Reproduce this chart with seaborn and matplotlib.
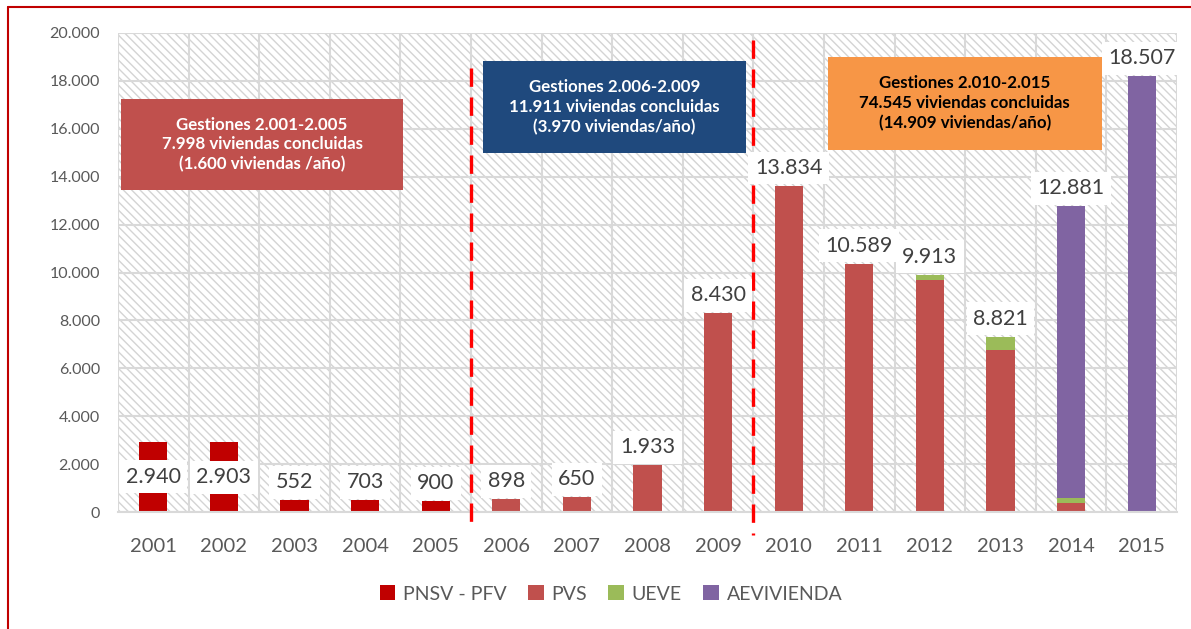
import matplotlib
matplotlib.use("Agg")
import matplotlib.pyplot as plt
import seaborn as sns
import numpy as np
import pandas as pd
from matplotlib.patches import Rectangle
from matplotlib.lines import Line2D
from matplotlib.ticker import FuncFormatter, MultipleLocator, FixedLocator

# ---------------- data ----------------
years = ["2001", "2002", "2003", "2004", "2005", "2006", "2007", "2008",
         "2009", "2010", "2011", "2012", "2013", "2014", "2015"]
pnsv_pfv = [2940, 2903, 490, 490, 450, 0, 0, 0, 0, 0, 0, 0, 0, 0, 0]
pvs = [0, 0, 0, 0, 0, 530, 610, 1950, 8300, 13610, 10360, 9690, 6770, 390, 0]
ueve = [0, 0, 0, 0, 0, 0, 0, 0, 0, 0, 0, 210, 540, 210, 0]
aevivienda = [0, 0, 0, 0, 0, 0, 0, 0, 0, 0, 0, 0, 0, 12170, 18200]
total_labels = ["2.940", "2.903", "552", "703", "900", "898", "650", "1.933",
                "8.430", "13.834", "10.589", "9.913", "8.821", "12.881", "18.507"]
series_names = ["PNSV - PFV", "PVS", "UEVE", "AEVIVIENDA"]
series_colors = ["#c00000", "#c0504d", "#9bbb59", "#8064a2"]

box_texts = [
    "Gestiones 2.001-2.005\n7.998 viviendas concluidas\n(1.600 viviendas /año)",
    "Gestiones 2.006-2.009\n11.911 viviendas concluidas\n(3.970 viviendas/año)",
    "Gestiones 2.010-2.015\n74.545 viviendas concluidas\n(14.909 viviendas/año)",
]

# ---------------- style ----------------
sns.set_theme(style="white")
plt.rcParams["font.family"] = ["Lato", "DejaVu Sans"]
plt.rcParams["hatch.linewidth"] = 1.0
plt.rcParams["hatch.color"] = "#d4d4d4"

fig = plt.figure(figsize=(11.91, 6.29), dpi=100)
W, H = 1191, 629
ax = fig.add_axes([118 / W, 1 - 512 / H, (1177 - 118) / W, (512 - 33) / H])

df = pd.DataFrame({"year": years, "PNSV - PFV": pnsv_pfv, "PVS": pvs,
                   "UEVE": ueve, "AEVIVIENDA": aevivienda})

# hatched background
bg = Rectangle((0, 0), 1, 1, transform=ax.transAxes, facecolor="white",
               edgecolor="#d4d4d4", hatch="\\\\\\\\", linewidth=0, zorder=0.1)
ax.add_patch(bg)

bottom = np.zeros(len(years))
for name, col in zip(series_names, series_colors):
    vals = df[name].to_numpy(dtype=float)
    sns.barplot(x=df["year"], y=vals, bottom=bottom, color=col, saturation=1,
                width=0.4, ax=ax, zorder=2, linewidth=0)
    bottom = bottom + vals

ax.set_xlim(-0.5, len(years) - 0.5)
ax.set_ylim(0, 20000)
ax.yaxis.set_major_locator(MultipleLocator(2000))
ax.yaxis.set_major_formatter(FuncFormatter(lambda v, p: f"{int(v):,}".replace(",", ".")))
ax.xaxis.set_minor_locator(FixedLocator(np.arange(-0.5, len(years), 1.0)))
ax.set_axisbelow(True)
ax.grid(axis="y", which="major", color="#d9d9d9", linewidth=1.5, zorder=0.5)
ax.grid(axis="x", which="minor", color="#d9d9d9", linewidth=1.5, zorder=0.5)
ax.grid(axis="x", which="major", visible=False)
for s in ["top", "right", "left"]:
    ax.spines[s].set_visible(False)
ax.spines["bottom"].set_color("#d9d9d9")
ax.spines["bottom"].set_linewidth(1.5)
ax.spines["bottom"].set_zorder(3)
ax.tick_params(axis="both", which="both", length=0)
ax.tick_params(axis="x", labelsize=14.5, labelcolor="#595959", pad=19)
ax.tick_params(axis="y", labelsize=11.5, labelcolor="#595959", pad=13)
ax.set_xlabel("")
ax.set_ylabel("")

# data labels
for i, lab in enumerate(total_labels):
    top = bottom[i]
    if pnsv_pfv[i] > 2000:
        ax.annotate(lab, (i, top / 2), ha="center", va="center", fontsize=15.5,
                    color="#404040", zorder=5,
                    bbox=dict(boxstyle="square,pad=0.3", fc="white", ec="none"))
    else:
        ax.annotate(lab, (i, top), xytext=(0, 13), textcoords="offset points",
                    ha="center", va="center", fontsize=15.5, color="#404040",
                    zorder=5,
                    bbox=dict(boxstyle="square,pad=0.3", fc="white", ec="none"))

# dashed separators
ax.plot([4.5, 4.5], [18540, -750], color="#ff0000", lw=2.4, ls=(0, (5.5, 3.2)),
        clip_on=False, zorder=4)
ax.plot([8.5, 8.5], [19700, -960], color="#ff0000", lw=2.4, ls=(0, (5.5, 3.2)),
        clip_on=False, zorder=4)

# summary boxes (axes fraction)
boxes = [((0.003, 0.672), 0.266, 0.190, "#c0504d", "white"),
         ((0.345, 0.749), 0.248, 0.193, "#1f497d", "white"),
         ((0.670, 0.756), 0.259, 0.194, "#f79646", "black")]
for (xy, w, h, fc, tc), txt in zip(boxes, box_texts):
    ax.add_patch(Rectangle(xy, w, h, transform=ax.transAxes, facecolor=fc,
                           edgecolor="none", zorder=4))
    ax.text(xy[0] + w / 2, xy[1] + h / 2, txt, transform=ax.transAxes,
            ha="center", va="center", fontsize=12.2, fontweight="bold",
            color=tc, linespacing=1.3, zorder=5)

# legend
handles = [Rectangle((0, 0), 1, 1, facecolor=c, edgecolor="none") for c in series_colors]
fig.legend(handles, series_names, loc="center", bbox_to_anchor=(0.513, 1 - 594 / H),
           ncol=4, frameon=False, fontsize=14, labelcolor="#595959",
           handlelength=0.8, handleheight=0.8, handletextpad=0.4, columnspacing=1.1)

# red frame
fig.add_artist(Line2D([8 / W, 8 / W], [0, 1 - 7 / H], color="#c00000", lw=1.5,
                      transform=fig.transFigure))
fig.add_artist(Line2D([8 / W, 1], [1 - 7 / H, 1 - 7 / H], color="#c00000", lw=1.5,
                      transform=fig.transFigure))

fig.savefig("out.png", dpi=100)
